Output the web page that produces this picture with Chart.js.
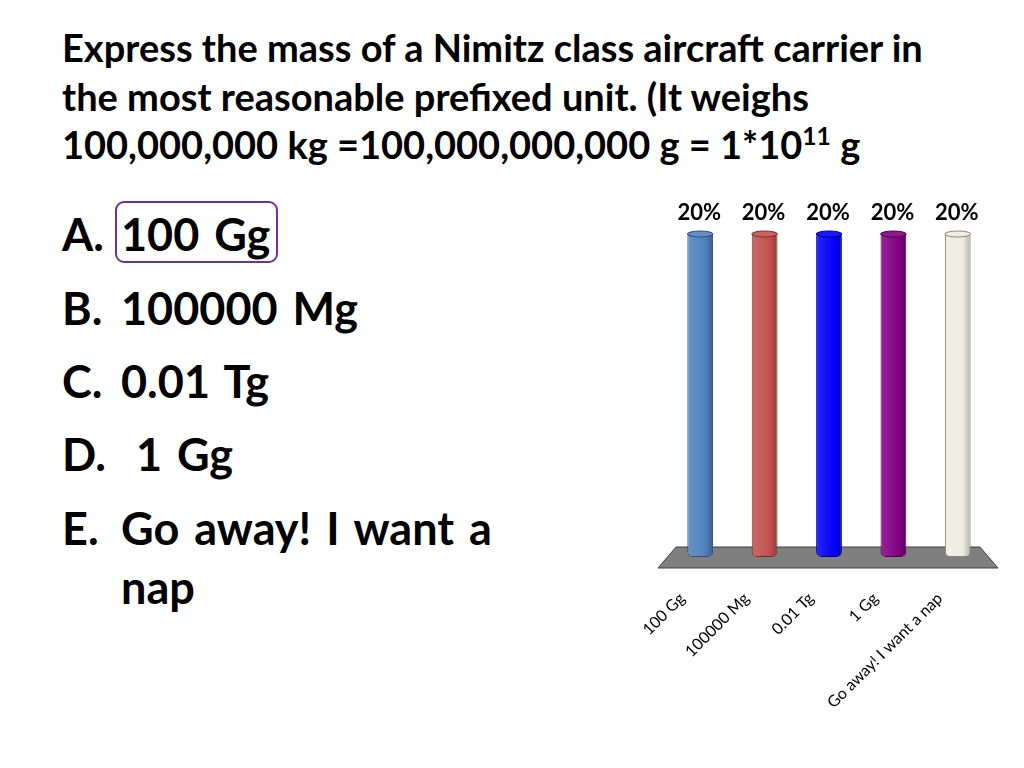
<!DOCTYPE html>
<html>
<head>
<meta charset="utf-8">
<script src="https://cdn.jsdelivr.net/npm/chart.js@4.4.1/dist/chart.umd.min.js"></script>
<style>
  body { margin: 0; width: 1024px; height: 768px; background: #fff; font-family: Lato, "Open Sans", sans-serif; position: relative; overflow: hidden; }
  .t { position: absolute; left: 62px; font-weight: bold; font-size: 38px; color: #000; white-space: nowrap; line-height: 1; }
  .t sup { font-size: 0.65em; vertical-align: 0.55em; line-height: 0; }
  .li { position: absolute; font-weight: bold; font-size: 45px; color: #000; white-space: nowrap; line-height: 1; word-spacing: 4px; }
  .box { position: absolute; left: 115px; top: 201px; width: 163px; height: 62px; border: 2px solid #7030a0; border-radius: 9px; box-sizing: border-box; }
  #wrap { position: absolute; left: 630px; top: 190px; width: 390px; height: 530px; }
</style>
</head>
<body>
<div class="t" style="top:28px">Express the mass of a Nimitz class aircraft carrier in</div>
<div class="t" style="top:77px">the most reasonable prefixed unit. (It weighs</div>
<div class="t" style="top:125px">100,000,000 kg =100,000,000,000 g = 1*10<sup>11</sup> g</div>

<div class="box"></div>
<div class="li" style="left:62px;top:212px">A.</div><div class="li" style="left:121px;top:212px">100 Gg</div>
<div class="li" style="left:62px;top:286px">B.</div><div class="li" style="left:121px;top:286px">100000 Mg</div>
<div class="li" style="left:62px;top:359px">C.</div><div class="li" style="left:121px;top:359px">0.01 Tg</div>
<div class="li" style="left:62px;top:432px">D.</div><div class="li" style="left:121px;top:432px">&nbsp;1 Gg</div>
<div class="li" style="left:62px;top:506px">E.</div><div class="li" style="left:121px;top:506px">Go away! I want a</div>
<div class="li" style="left:121px;top:565px">nap</div>

<div id="wrap"><canvas id="poll"></canvas></div>

<script>
// données du sondage
const answers = ['100 Gg', '100000 Mg', '0.01 Tg', '1 Gg', 'Go away! I want a nap'];
const percents = [20, 20, 20, 20, 20];
const barColors = ['#4f81bd', '#c0504d', '#0000ff', '#800080', '#eeece1'];
const barEdges = ['#2c4d75', '#772c2a', '#00008b', '#4b004b', '#8c8a80'];

function shade(hex, f) {
    const n = parseInt(hex.slice(1), 16);
    let r = n >> 16, g = (n >> 8) & 255, b = n & 255;
    const m = c => Math.max(0, Math.min(255, Math.round(f > 0 ? c + (255 - c) * f : c * (1 + f))));
    return `rgb(${m(r)},${m(g)},${m(b)})`;
}

// dégradé horizontal pour l'effet cylindre
function cylinderFill(context) {
    const chart = context.chart;
    const base = barColors[context.dataIndex];
    if (!chart.chartArea) return base;
    const x = chart.scales.x.getPixelForValue(context.dataIndex);
    const g = chart.ctx.createLinearGradient(x - 13, 0, x + 13, 0);
    g.addColorStop(0, shade(base, 0.15));
    g.addColorStop(0.35, shade(base, 0.08));
    g.addColorStop(0.7, base);
    g.addColorStop(1, shade(base, -0.25));
    return g;
}

// plancher gris en perspective
const floorPlugin = {
    id: 'floor',
    beforeDatasetsDraw(chart) {
        const { ctx, chartArea } = chart;
        const b = chartArea.bottom;
        ctx.save();
        ctx.beginPath();
        ctx.moveTo(chartArea.left + 8, b - 10);
        ctx.lineTo(chartArea.right - 10, b - 10);
        ctx.lineTo(chartArea.right + 8, b + 11);
        ctx.lineTo(chartArea.left - 10, b + 11);
        ctx.closePath();
        ctx.fillStyle = '#7f7f7f';
        ctx.fill();
        ctx.strokeStyle = '#3f3f3f';
        ctx.lineWidth = 1;
        ctx.stroke();
        ctx.restore();
    }
};

// capuchons et étiquettes de pourcentage
const capsPlugin = {
    id: 'caps',
    afterDatasetsDraw(chart) {
        const { ctx } = chart;
        const meta = chart.getDatasetMeta(0);
        ctx.save();
        meta.data.forEach((bar, i) => {
            const w = bar.width;
            ctx.beginPath();
            ctx.ellipse(bar.x, bar.y + 2, w / 2, 3, 0, 0, Math.PI * 2);
            ctx.fillStyle = shade(barColors[i], 0.1);
            ctx.fill();
            ctx.strokeStyle = barEdges[i];
            ctx.lineWidth = 1;
            ctx.stroke();
            ctx.fillStyle = '#000';
            ctx.font = 'bold 22px Lato, sans-serif';
            ctx.textAlign = 'center';
            ctx.textBaseline = 'alphabetic';
            ctx.fillText(percents[i] + '%', bar.x - 1, bar.y - 12);
        });
        ctx.restore();
    }
};

new Chart(document.getElementById('poll'), {
    type: 'bar',
    data: {
        labels: answers,
        datasets: [{
            data: percents,
            backgroundColor: cylinderFill,
            borderColor: barEdges,
            borderWidth: 1,
            borderRadius: { bottomLeft: 5, bottomRight: 5, topLeft: 4, topRight: 4 },
            borderSkipped: false,
            barPercentage: 0.8,
            categoryPercentage: 0.5
        }]
    },
    options: {
        responsive: true,
        maintainAspectRatio: false,
        animation: false,
        layout: { padding: { top: 42, left: 38, right: 30, bottom: 0 } },
        scales: {
            x: {
                grid: { display: false },
                border: { display: false },
                ticks: {
                    color: '#000',
                    font: { family: 'Lato', size: 16 },
                    minRotation: 45,
                    maxRotation: 45,
                    padding: 24,
                    labelOffset: -18
                },
                afterFit(scale) { scale.height = 163; }
            },
            y: {
                display: false,
                min: 0,
                max: 20
            }
        },
        plugins: {
            legend: { display: false },
            tooltip: { enabled: false }
        }
    },
    plugins: [floorPlugin, capsPlugin]
});
</script>
</body>
</html>
